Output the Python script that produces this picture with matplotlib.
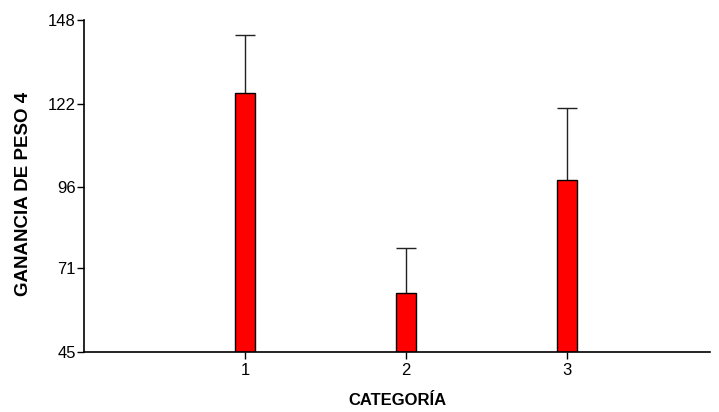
import numpy as np
import matplotlib.pyplot as plt

plt.rcParams['font.family'] = ['Liberation Sans', 'DejaVu Sans']

# --- data

categories = [1, 2, 3]
means = [125.3, 63.2, 98.4]
upper_err = [18.1, 14.0, 22.2]
y_ticks = [45, 71, 96, 122, 148]

bar_w = 0.12
base = 45


fig = plt.figure(figsize=(7.19, 4.12), dpi=100)

left = 0.117
bottom = 0.146
width = 0.871
height = 0.806

ax = fig.add_axes((left, bottom, width, height))

x = np.array(categories, dtype=float)
m = np.array(means)
tops = m + np.array(upper_err)

ax.bar(x, m - base, bottom=base, width=bar_w,
       color='#ff0000', edgecolor='black', lw=1, zorder=2)

# --- upper error bars only
ax.vlines(x, m, tops, color='#222222', lw=1, zorder=1)
ax.hlines(tops, x - bar_w / 2, x + bar_w / 2, color='#222222', lw=1, zorder=1)

ax.set_xlim([0, 3.89])
ax.set_ylim([base, 148])
ax.set_yticks(y_ticks)
ax.set_xticks(categories)

for s in ['top', 'right']:
    ax.spines[s].set_visible(False)
for s in ['left', 'bottom']:
    ax.spines[s].set_linewidth(1.2)

ax.tick_params(axis='both', direction='out', length=5, width=1, labelsize=12, colors='black')
ax.tick_params(axis='y', pad=1)
ax.tick_params(axis='x', pad=3)

ax.set_ylabel('GANANCIA DE PESO 4', fontsize=13.5, fontweight='bold')
ax.yaxis.set_label_coords(-0.083, 0.476)
ax.set_xlabel('CATEGORÍA', fontsize=12, fontweight='bold', labelpad=11)

fig.savefig('out.png', dpi=100)
